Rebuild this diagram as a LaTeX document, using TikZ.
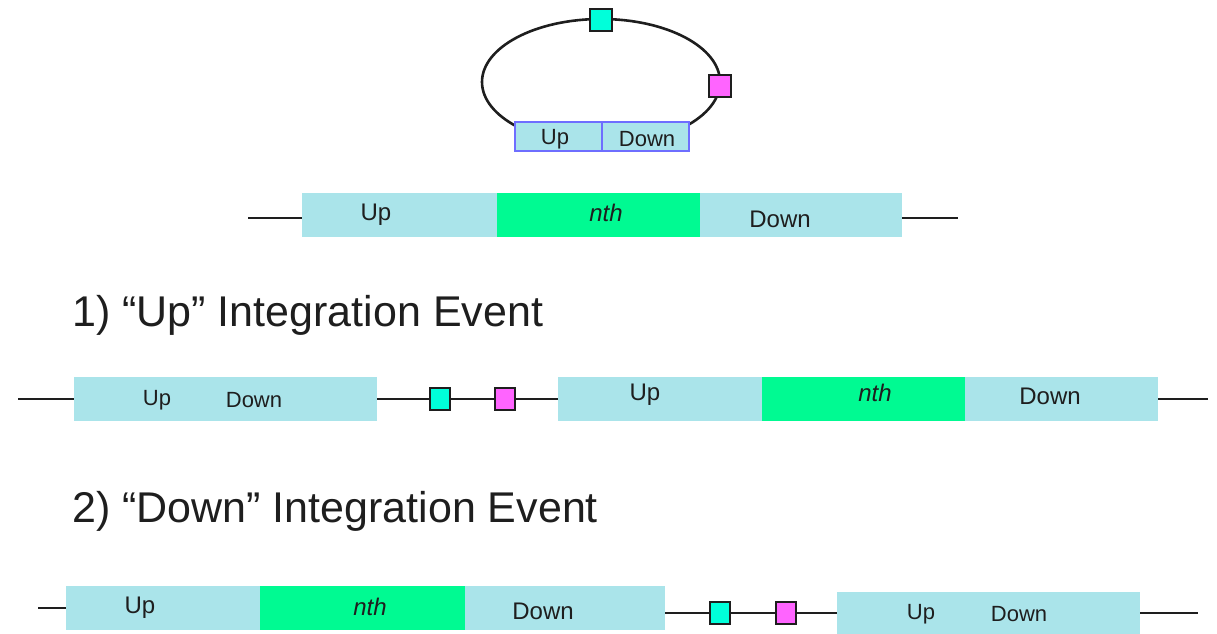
\documentclass[tikz,border=0pt]{standalone}
\usepackage{fontspec}
\setmainfont{Liberation Sans}
\definecolor{segblue}{RGB}{170,228,234}
\definecolor{seggreen}{RGB}{0,250,146}
\definecolor{sitecyan}{RGB}{0,255,218}
\definecolor{sitemag}{RGB}{255,100,255}
\definecolor{edgeblue}{RGB}{110,110,255}
\definecolor{ink}{RGB}{30,30,30}
\tikzset{
  seg/.style={rectangle, inner sep=0pt, minimum height=44pt},
  upseg/.style={seg, fill=segblue},
  nthseg/.style={seg, fill=seggreen},
  site/.style={rectangle, draw=ink, line width=1.2pt, inner sep=0pt, minimum width=20pt, minimum height=22pt},
  cyansite/.style={site, fill=sitecyan},
  magsite/.style={site, fill=sitemag},
  lbl/.style={inner sep=0pt, text=ink, font=\fontsize{24}{28}\selectfont},
  smalllbl/.style={inner sep=0pt, text=ink, font=\fontsize{22}{26}\selectfont},
  nthlbl/.style={lbl, font=\fontsize{24}{28}\selectfont\itshape},
  head/.style={inner sep=0pt, anchor=base west, text=ink, font=\fontsize{43}{48}\selectfont},
  wire/.style={draw=ink, line width=1.4pt}
}
\begin{document}
\begin{tikzpicture}[x=1pt,y=-1pt]
\useasboundingbox (0,0) rectangle (1217,633);

% plasmid
\draw[ink, line width=2.6pt] (601,82) ellipse [x radius=119, y radius=63];
\node[rectangle, draw=edgeblue, fill=segblue, line width=1.3pt, minimum width=87pt, minimum height=29pt, inner sep=0pt] (pu) at (558.5,136.5) {};
\node[rectangle, draw=edgeblue, fill=segblue, line width=1.3pt, minimum width=87pt, minimum height=29pt, inner sep=0pt] (pd) at (645.5,136.5) {};
\node[smalllbl] (put) at (555,139) {Up};
\node[smalllbl] (pdt) at (647,139) {Down};
\node[cyansite, minimum width=22pt] (pc) at (601,20) {};
\node[magsite, minimum width=22pt] (pm) at (720,86) {};

% chromosome
\node[upseg, minimum width=195pt] (au) at (399.5,215) {};
\node[nthseg, minimum width=203pt] (an) at (598.5,215) {};
\node[upseg, minimum width=202pt] (ad) at (801,215) {};
\coordinate (al) at (248,218);
\coordinate (ar) at (958,218);
\draw[wire] (al) -- (al -| au.west);
\draw[wire] (ar -| ad.east) -- (ar);
\node[lbl] (aut) at (376,215) {Up};
\node[nthlbl] (ant) at (606,213) {nth};
\node[lbl] (adt) at (780,219) {Down};

% event 1
\node[head] (h1) at (72,326) {1) “Up” Integration Event};
\node[upseg, minimum width=303pt] (bp) at (225.5,399) {};
\node[upseg, minimum width=204pt] (bu) at (660,399) {};
\node[nthseg, minimum width=203pt] (bn) at (863.5,399) {};
\node[upseg, minimum width=193pt] (bd) at (1061.5,399) {};
\node[cyansite] (bc) at (440,399) {};
\node[magsite] (bm) at (505,399) {};
\coordinate (bl) at (18,399);
\coordinate (br) at (1208,399);
\draw[wire] (bl) -- (bp.west);
\draw[wire] (bp.east) -- (bc.west);
\draw[wire] (bc.east) -- (bm.west);
\draw[wire] (bm.east) -- (bu.west);
\draw[wire] (bd.east) -- (br);
\node[smalllbl] (bput) at (157,400) {Up};
\node[smalllbl] (bpdt) at (254,400) {Down};
\node[lbl] (but) at (645,395) {Up};
\node[nthlbl] (bnt) at (875,393) {nth};
\node[lbl] (bdt) at (1050,396) {Down};

% event 2
\node[head] (h2) at (72,522) {2) “Down” Integration Event};
\node[upseg, minimum width=194pt] (cu) at (163,607.5) {};
\node[nthseg, minimum width=205pt] (cn) at (362.5,607.5) {};
\node[upseg, minimum width=200pt] (cd) at (565,607.5) {};
\node[upseg, minimum width=303pt, minimum height=44pt] (cp) at (988.5,614) {};
\node[cyansite] (cc) at (720,613) {};
\node[magsite] (cm) at (786,613) {};
\coordinate (cl) at (38,608);
\coordinate (cr) at (1198,613);
\draw[wire] (cl) -- (cl -| cu.west);
\draw[wire] (cc.west -| cd.east) -- (cc.west);
\draw[wire] (cc.east) -- (cm.west);
\draw[wire] (cm.east) -- (cm.east -| cp.west);
\draw[wire] (cr -| cp.east) -- (cr);
\node[lbl] (cut) at (140,608) {Up};
\node[nthlbl] (cnt) at (370,607) {nth};
\node[lbl] (cdt) at (543,611) {Down};
\node[smalllbl] (cput) at (921,614) {Up};
\node[smalllbl] (cpdt) at (1019,614) {Down};
\end{tikzpicture}
\end{document}
